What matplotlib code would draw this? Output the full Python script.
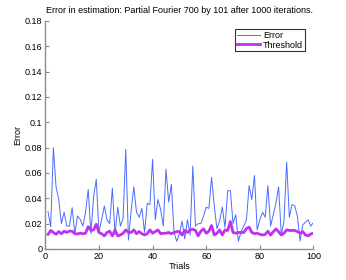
import numpy as np
import matplotlib.pyplot as plt

plt.rcParams['font.family'] = ['Liberation Sans', 'DejaVu Sans']

trials = np.arange(1, 101)

error = [0.0295, 0.0176, 0.080, 0.049, 0.039, 0.020, 0.029, 0.018, 0.018, 0.0326,
         0.012, 0.026, 0.0234, 0.018, 0.029, 0.047, 0.012, 0.041, 0.055, 0.013,
         0.023, 0.034, 0.023, 0.020, 0.048, 0.0115, 0.033, 0.018, 0.024, 0.0787,
         0.007, 0.030, 0.049, 0.029, 0.025, 0.032, 0.013, 0.036, 0.035, 0.0708,
         0.023, 0.039, 0.031, 0.018, 0.063, 0.037, 0.051, 0.013, 0.006, 0.012,
         0.022, 0.008, 0.023, 0.011, 0.0655, 0.018, 0.020, 0.020, 0.026, 0.033,
         0.032, 0.0566, 0.034, 0.016, 0.022, 0.033, 0.017, 0.046, 0.046, 0.020,
         0.027, 0.006, 0.0135, 0.018, 0.0228, 0.050, 0.039, 0.058, 0.015, 0.023,
         0.029, 0.025, 0.050, 0.018, 0.027, 0.036, 0.049, 0.011, 0.022, 0.0687,
         0.025, 0.035, 0.034, 0.026, 0.0063, 0.019, 0.021, 0.023, 0.018, 0.021]

threshold = [0.0115, 0.0146, 0.013, 0.0115, 0.0137, 0.012, 0.014, 0.013, 0.014, 0.014,
             0.012, 0.0118, 0.0124, 0.012, 0.0124, 0.0176, 0.0146, 0.015, 0.0195, 0.013,
             0.012, 0.0103, 0.013, 0.014, 0.0103, 0.015, 0.0103, 0.011, 0.0124, 0.015,
             0.013, 0.013, 0.015, 0.012, 0.0137, 0.012, 0.011, 0.012, 0.015, 0.0124,
             0.0137, 0.015, 0.012, 0.0124, 0.0124, 0.013, 0.012, 0.013, 0.0137, 0.0137,
             0.011, 0.0146, 0.013, 0.015, 0.0155, 0.0146, 0.0103, 0.014, 0.0158, 0.0124,
             0.014, 0.0185, 0.011, 0.0124, 0.015, 0.011, 0.015, 0.0145, 0.0216, 0.013,
             0.0124, 0.013, 0.013, 0.013, 0.016, 0.0172, 0.013, 0.012, 0.0124, 0.0115,
             0.011, 0.0115, 0.014, 0.011, 0.0135, 0.0158, 0.0135, 0.011, 0.0124, 0.015,
             0.0146, 0.0146, 0.0146, 0.0137, 0.0124, 0.0137, 0.011, 0.0103, 0.0118, 0.0124]

fig = plt.figure(figsize=(3.46, 2.80), dpi=100)
ax = fig.add_axes([0.131, 0.111, 0.775, 0.814])

ax.plot(trials, error, color='#4a6cff', lw=0.7, label='Error')
ax.plot(trials, threshold, color='#c030f0', lw=2.0, label='Threshold')

ax.set_xlim(0, 100)
ax.set_ylim(0, 0.18)
ax.set_xticks(np.arange(0, 101, 20))
ax.set_yticks(np.arange(0, 0.181, 0.02))
ax.set_yticklabels(['0', '0.02', '0.04', '0.06', '0.08', '0.1', '0.12', '0.14', '0.16', '0.18'])

for s in ['top', 'right']:
    ax.spines[s].set_visible(False)
for s in ['left', 'bottom']:
    ax.spines[s].set_color('#8c8c8c')
    ax.spines[s].set_linewidth(1.0)
ax.tick_params(direction='in', length=3, width=0.8, color='#8c8c8c', labelsize=6.5, pad=2)

ax.set_title('Error in estimation: Partial Fourier 700 by 101 after 1000 iterations.', fontsize=6.5, pad=6)
ax.set_xlabel('Trials', fontsize=6.5, labelpad=1)
ax.set_ylabel('Error', fontsize=6.5, labelpad=2)

leg = ax.legend(loc='upper right', fontsize=6.5, frameon=True, fancybox=False,
                handlelength=2.6, borderpad=0.2, labelspacing=0.1, handletextpad=0.3,
                bbox_to_anchor=(0.985, 0.985))
leg.get_frame().set_edgecolor('black')
leg.get_frame().set_linewidth(0.8)

fig.savefig('out.png', dpi=100)
plt.close()
